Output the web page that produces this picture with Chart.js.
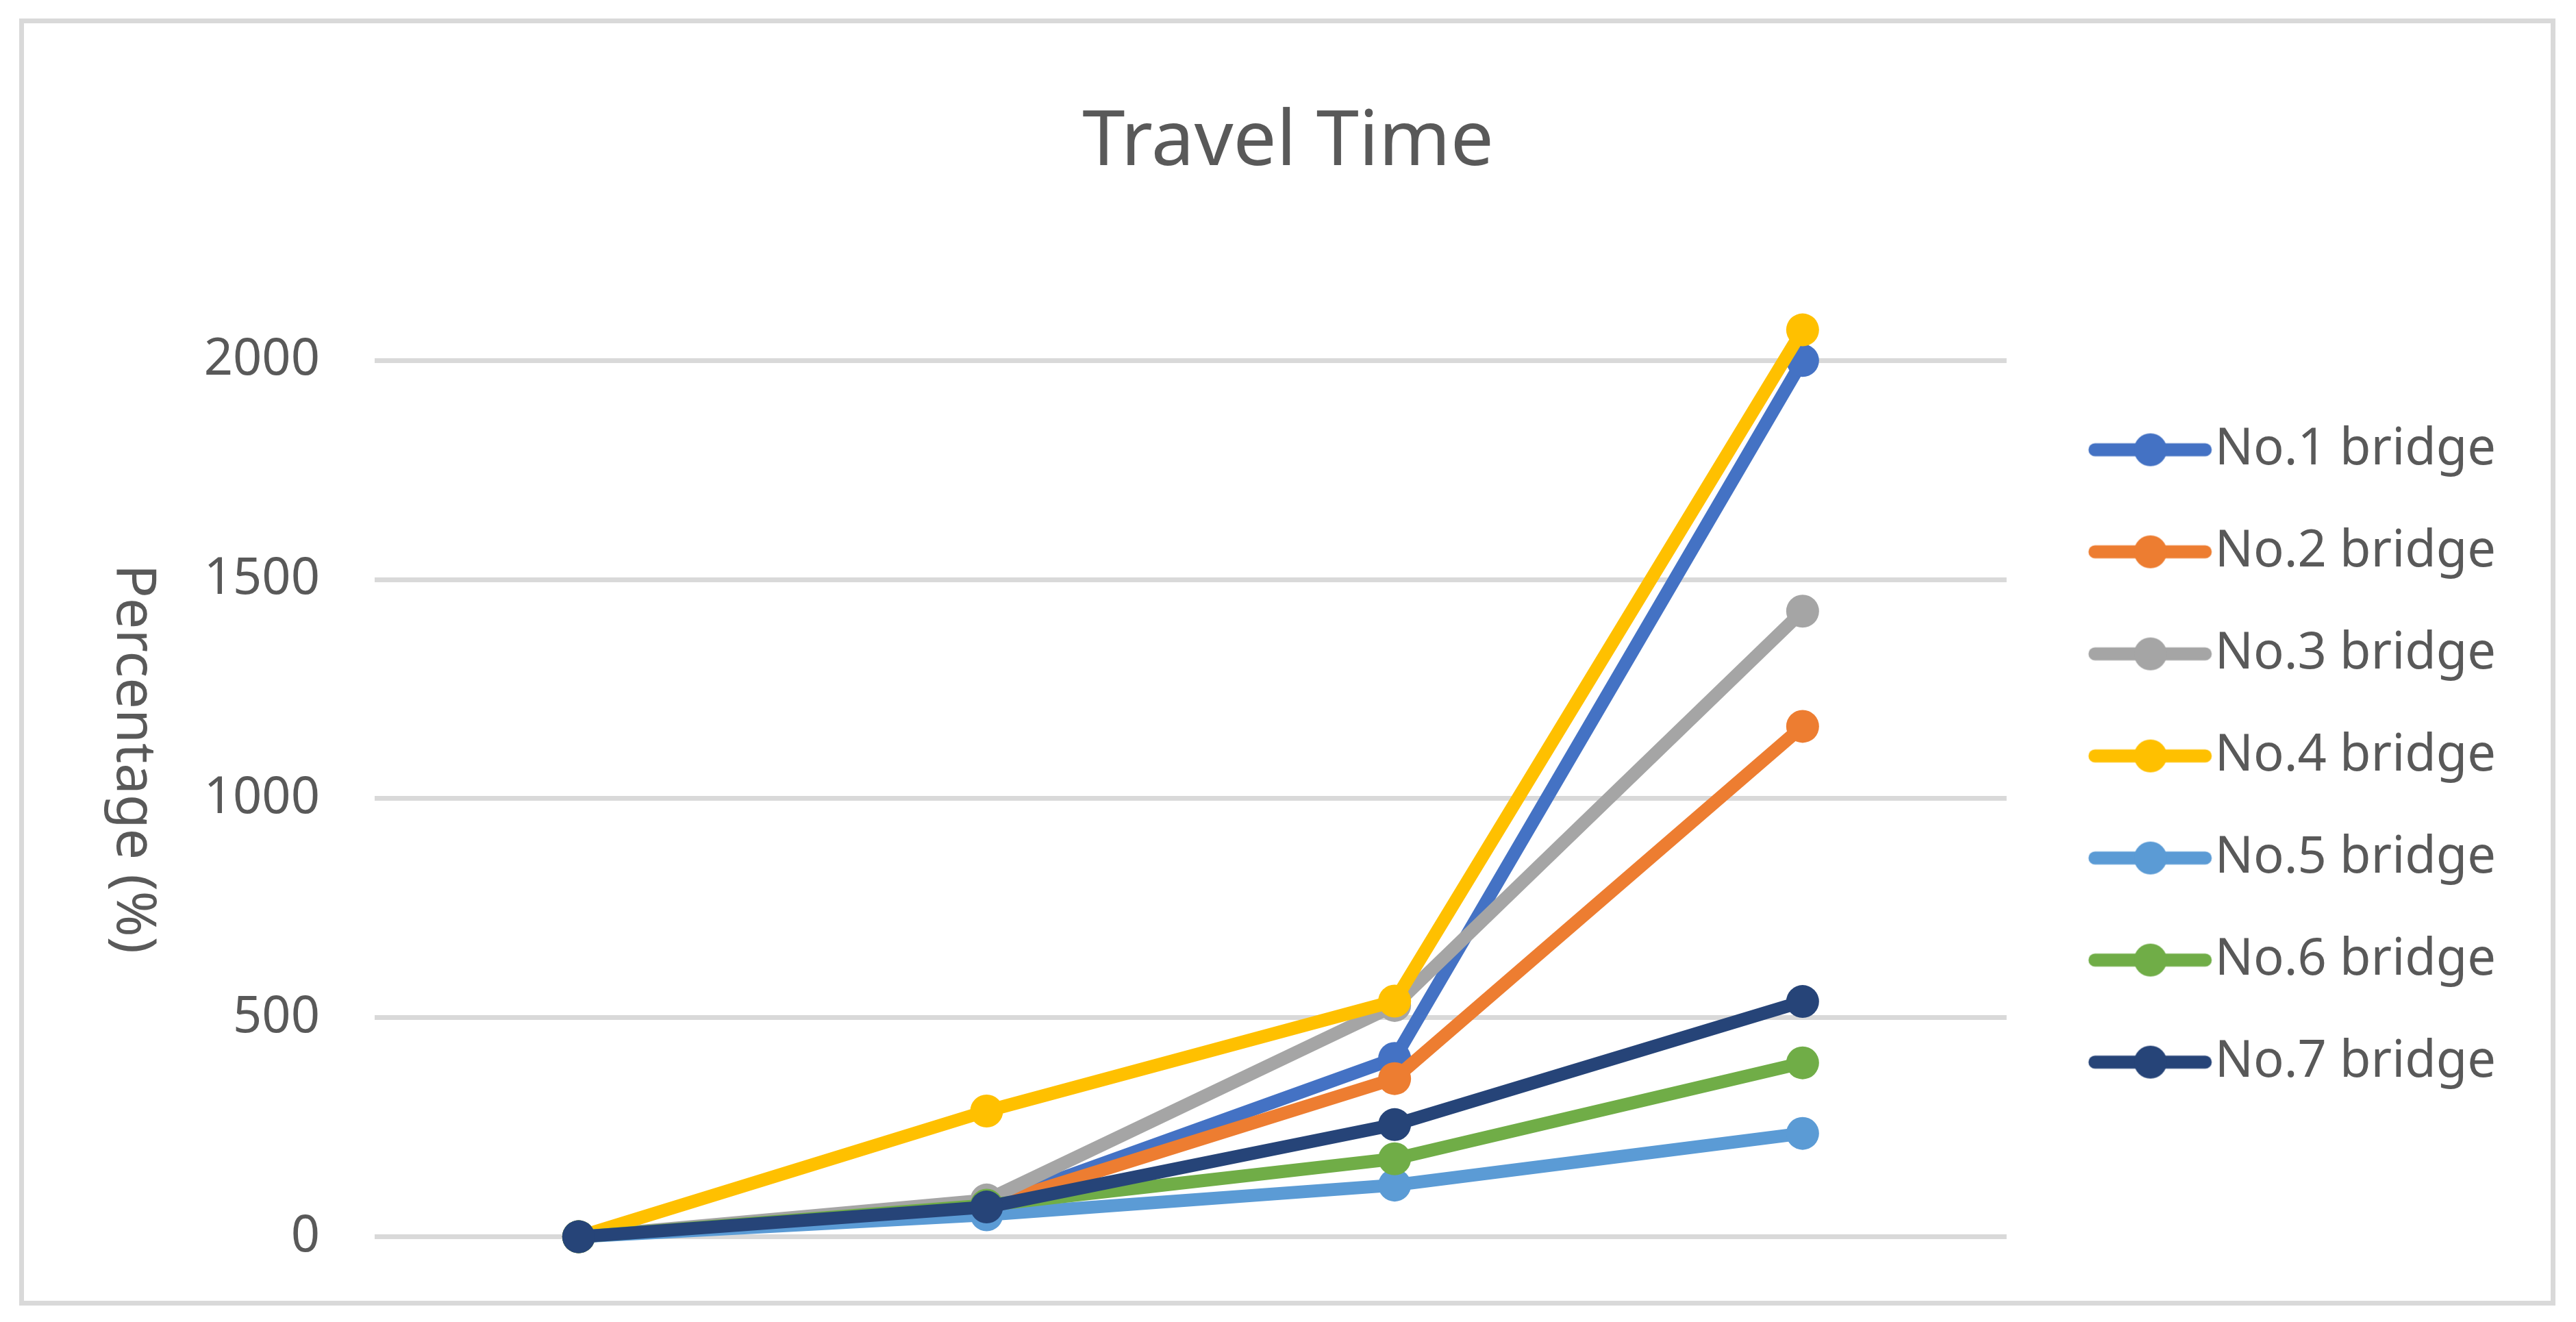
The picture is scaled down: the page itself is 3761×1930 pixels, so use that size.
<!DOCTYPE html>
<html>
<head>
<meta charset="utf-8">
<title>Travel Time</title>
<script src="https://cdn.jsdelivr.net/npm/chart.js@4"></script>
<style>
  body { margin: 0; background: #fff; }
  #wrap { width: 3761px; height: 1930px; position: relative; }
</style>
</head>
<body>
<div id="wrap"><canvas id="myChart"></canvas></div>
<script>
// x categories have no labels in the original
const categories = ['', '', '', '']
const seriesNames = ['No.1 bridge', 'No.2 bridge', 'No.3 bridge', 'No.4 bridge', 'No.5 bridge', 'No.6 bridge', 'No.7 bridge']
const bridge1 = [0, 72, 407, 2000]
const bridge2 = [0, 70, 361, 1165]
const bridge3 = [0, 84, 528, 1428]
const bridge4 = [0, 287, 538, 2070]
const bridge5 = [0, 50, 118, 236]
const bridge6 = [0, 72, 178, 397]
const bridge7 = [0, 68, 256, 537]
const yTicks = [0, 500, 1000, 1500, 2000]

const seriesValues = [bridge1, bridge2, bridge3, bridge4, bridge5, bridge6, bridge7]
const colors = ['#4472C4', '#ED7D31', '#A5A5A5', '#FFC000', '#5B9BD5', '#70AD47', '#264478']

const textColor = '#595959'
const fontFamily = '"Noto Sans", "Open Sans", sans-serif'
const legendFont = 74
const legendPad = 75
const boxW = 192

// legend sample: a line with a dot in the middle, like excel
function makeIcon(color) {
    const c = document.createElement('canvas')
    c.width = 270
    c.height = 54
    const g = c.getContext('2d')
    g.strokeStyle = color
    g.lineWidth = 19
    g.lineCap = 'round'
    g.beginPath()
    g.moveTo(93, 27)
    g.lineTo(254, 27)
    g.stroke()
    g.fillStyle = color
    g.beginPath()
    g.arc(174, 27, 24, 0, Math.PI * 2)
    g.fill()
    return c
}
const legendIcons = colors.map(makeIcon)

// legend width is text dependent, keep plot right edge fixed
// and pad the left by the same amount so the title stays centred
const mctx = document.createElement('canvas').getContext('2d')
mctx.font = legendFont + 'px ' + fontFamily
const maxText = Math.max(...seriesNames.map(s => mctx.measureText(s).width))
const legendWidth = legendPad + boxW + legendFont / 2 + maxText + 10
const sidePad = Math.max(0, Math.round(3761 - 2930 - legendWidth))

const frame = {
    id: 'frame',
    beforeDraw(chart) {
        const ctx = chart.ctx
        ctx.save()
        ctx.fillStyle = '#fff'
        ctx.fillRect(0, 0, chart.width, chart.height)
        ctx.strokeStyle = '#D9D9D9'
        ctx.lineWidth = 7
        ctx.strokeRect(31.5, 30.5, 3696, 1872)
        ctx.restore()
    }
}

// y axis title reads top to bottom in the original
const yTitle = {
    id: 'yTitle',
    afterDraw(chart) {
        const ctx = chart.ctx
        ctx.save()
        ctx.translate(194, 1108)
        ctx.rotate(Math.PI / 2)
        ctx.font = '81px ' + fontFamily
        ctx.fillStyle = textColor
        ctx.textAlign = 'center'
        ctx.textBaseline = 'middle'
        ctx.fillText('Percentage (%)', 0, 0)
        ctx.restore()
    }
}

const datasets = seriesValues.map((vals, i) => ({
    label: seriesNames[i],
    data: vals,
    borderColor: colors[i],
    backgroundColor: colors[i],
    pointBackgroundColor: colors[i],
    pointBorderWidth: 0,
    pointRadius: 24,
    pointHoverRadius: 24,
    borderWidth: 19,
    borderCapStyle: 'round',
    borderJoinStyle: 'round',
    tension: 0,
    clip: false,
    order: seriesValues.length - i
}))

const ctx = document.getElementById('myChart').getContext('2d')
const myChart = new Chart(ctx, {
    type: 'line',
    data: {
        labels: categories,
        datasets: datasets
    },
    options: {
        responsive: true,
        maintainAspectRatio: false,
        animation: false,
        devicePixelRatio: 1,
        layout: {
            padding: { top: 0, left: sidePad, right: sidePad, bottom: 120 }
        },
        plugins: {
            title: {
                display: true,
                text: 'Travel Time',
                color: textColor,
                font: { size: 112, family: fontFamily, weight: 'normal' },
                padding: { top: 142, bottom: 186 }
            },
            legend: {
                position: 'right',
                align: 'start',
                fullSize: false,
                title: {
                    display: true,
                    text: ' ',
                    font: { size: 1 },
                    padding: { top: 81, bottom: 0 }
                },
                labels: {
                    usePointStyle: true,
                    pointStyleWidth: boxW,
                    padding: legendPad,
                    color: textColor,
                    font: { size: legendFont, family: fontFamily },
                    generateLabels(chart) {
                        const items = Chart.defaults.plugins.legend.labels.generateLabels(chart)
                        items.forEach(it => { it.pointStyle = legendIcons[it.datasetIndex] })
                        return items.sort((a, b) => a.datasetIndex - b.datasetIndex)
                    }
                }
            },
            tooltip: { enabled: false }
        },
        scales: {
            x: {
                display: false,
                offset: true
            },
            y: {
                min: 0,
                max: 2100,
                afterFit(scale) { scale.width = 547 - sidePad },
                afterBuildTicks(scale) { scale.ticks = yTicks.map(v => ({ value: v })) },
                border: { display: false },
                grid: { color: '#D9D9D9', lineWidth: 7, drawTicks: false },
                ticks: {
                    color: textColor,
                    padding: 80,
                    font: { size: 74, family: fontFamily },
                    callback: v => String(v)
                }
            }
        }
    },
    plugins: [frame, yTitle]
})
</script>
</body>
</html>
